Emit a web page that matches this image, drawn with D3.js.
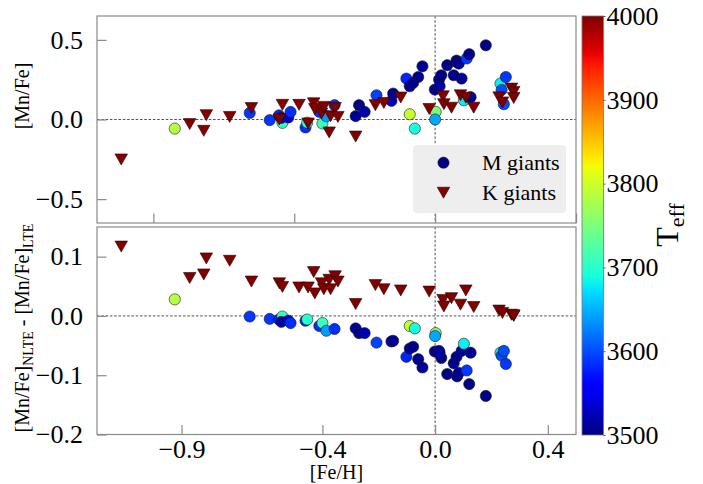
<!DOCTYPE html>
<html><head><meta charset="utf-8">
<script src="https://cdn.jsdelivr.net/npm/d3@7"></script>
<style>
body{margin:0;background:#fff}
svg{display:block}
svg text{font-family:"Liberation Serif","Times New Roman",serif !important;fill:#000}
</style>
</head><body>
<svg id="chart" width="703" height="484"></svg>
<script>
// M giants: metallicity, [Mn/Fe], NLTE-LTE correction, effective temperature
const fehM   = [-0.924,-0.658,-0.587,-0.554,-0.542,-0.546,-0.521,-0.513,-0.460,-0.454,-0.411,-0.400,-0.386,-0.357,-0.282,-0.270,-0.250,-0.208,-0.155,-0.149,-0.090,-0.072,-0.102,-0.090,-0.078,-0.060,-0.045,0.002,0.000,-0.001,0.014,0.022,0.016,0.043,0.066,0.076,0.078,0.084,0.094,0.102,0.112,0.126,0.121,0.180,0.232,0.236,0.244,0.251];
const mnfeM  = [-0.057,0.041,-0.004,0.026,-0.021,0.010,0.013,0.048,-0.050,-0.020,0.048,-0.025,0.020,0.090,0.021,0.090,0.048,0.152,0.117,0.163,0.033,-0.057,0.257,0.209,0.230,0.267,0.334,0.048,0.000,0.188,0.251,0.278,0.209,0.341,0.278,0.370,0.360,0.351,0.257,0.121,0.383,0.140,0.410,0.466,0.226,0.186,0.096,0.267];
const dnlteM = [0.028,-0.001,-0.005,-0.006,-0.001,-0.010,-0.008,-0.012,-0.008,-0.006,-0.017,-0.012,-0.025,-0.022,-0.021,-0.029,-0.029,-0.045,-0.043,-0.042,-0.017,-0.021,-0.069,-0.055,-0.052,-0.073,-0.087,-0.029,-0.034,-0.060,-0.059,-0.071,-0.062,-0.098,-0.080,-0.069,-0.102,-0.096,-0.059,-0.047,-0.092,-0.062,-0.115,-0.135,-0.062,-0.067,-0.059,-0.081];
const teffM  = [3785,3590,3590,3580,3705,3520,3530,3585,3585,3700,3585,3710,3640,3585,3510,3505,3520,3595,3530,3510,3795,3690,3580,3510,3505,3505,3510,3750,3645,3505,3510,3505,3515,3505,3510,3505,3505,3510,3510,3680,3590,3510,3505,3505,3680,3600,3600,3590];

// K giants
const fehK   = [-1.114,-0.871,-0.821,-0.812,-0.729,-0.652,-0.553,-0.542,-0.483,-0.451,-0.431,-0.427,-0.403,-0.395,-0.376,-0.371,-0.355,-0.345,-0.282,-0.212,-0.182,-0.122,-0.021,0.028,0.031,0.058,0.090,0.109,0.137,0.227,0.239,0.271,0.279,0.279];
const mnfeK  = [-0.251,-0.029,-0.071,0.027,0.016,0.072,0.000,0.092,0.092,-0.025,0.102,0.066,0.038,0.079,-0.081,0.021,0.072,0.016,-0.107,0.090,0.104,0.138,0.066,0.146,0.096,0.074,0.152,0.137,0.074,0.139,0.107,0.194,0.173,0.135];
const dnlteK = [0.117,0.064,0.070,0.097,0.093,0.058,0.055,0.049,0.048,0.048,0.074,0.038,0.055,0.045,0.061,0.045,0.067,0.058,0.020,0.052,0.045,0.043,0.041,0.027,0.016,0.030,0.019,0.043,0.015,0.009,0.005,0.002,0.000,0.001];
const teffK  = [4000,4000,4000,4000,4000,4000,4000,4000,4000,4000,4000,4000,4000,4000,4000,4000,4000,4000,4000,4000,4000,4000,4000,4000,4000,4000,4000,4000,4000,4000,4000,4000,4000,4000];

const xTicksTop = [-1.0,-0.5,0.0,0.5];
const xTicksBottom = [-0.9,-0.4,0.0,0.4];
const yTicksTop = [0.5,0.0,-0.5];
const yTicksBottom = [0.1,0.0,-0.1,-0.2];
const cbarTicks = [3500,3600,3700,3800,3900,4000];
const legendLabels = ["M giants","K giants"];

const SERIF = '"Liberation Serif","Times New Roman",serif';

// matplotlib "jet" colormap
function jet(t){
  t = Math.max(0, Math.min(1, t));
  const seg = (pts) => {
    for (let i = 1; i < pts.length; i++) {
      if (t <= pts[i][0]) {
        const [x0,y0] = pts[i-1], [x1,y1] = pts[i];
        return y0 + (y1 - y0) * (t - x0) / (x1 - x0);
      }
    }
    return pts[pts.length-1][1];
  };
  const r = seg([[0,0],[0.35,0],[0.66,1],[0.89,1],[1,0.5]]);
  const g = seg([[0,0],[0.125,0],[0.375,1],[0.64,1],[0.91,0],[1,0]]);
  const b = seg([[0,0.5],[0.11,1],[0.34,1],[0.65,0],[1,0]]);
  return d3.rgb(r*255, g*255, b*255).formatHex();
}

const svg = d3.select("#chart");
const L = 97, R = 576;
const topY0 = 16, topY1 = 223, botY0 = 227, botY1 = 434.5;

const x = d3.scaleLinear().domain([-1.2, 0.5]).range([L, R]);
const yTop = d3.scaleLinear().domain([-0.65, 0.65]).range([topY1, topY0]);
const yBot = d3.scaleLinear().domain([-0.2, 0.15]).range([botY1, botY0]);
const color = d3.scaleSequential(jet).domain([3500, 4000]).clamp(true);

const fmt = d3.format(".1f");
const spine = "#8a8a8a";
const tickLen = 9.5;

function triPath(w, h){
  return `M${-w/2},${-h/2}L${w/2},${-h/2}L0,${h/2}Z`;
}

function styleTicks(sel){
  sel.attr("font-family", null).attr("font-size", null);
  sel.selectAll(".tick text").style("font-family", SERIF).style("font-size", "26px").attr("fill", "#000");
}

function panel(y, y0, y1, yTicks, xTicks, showXLabels, yKey, clipId){
  const g = svg.append("g");
  svg.append("clipPath").attr("id", clipId).append("rect")
    .attr("x", L).attr("y", y0).attr("width", R - L).attr("height", y1 - y0);

  // reference lines at zero
  g.append("line").attr("x1", L).attr("x2", R).attr("y1", y(0)).attr("y2", y(0))
    .attr("stroke", "#222").attr("stroke-width", 0.8).attr("stroke-dasharray", "2.5,1.8");
  g.append("line").attr("x1", x(0)).attr("x2", x(0)).attr("y1", y0).attr("y2", y1)
    .attr("stroke", "#222").attr("stroke-width", 0.8).attr("stroke-dasharray", "2.5,1.8");

  const marks = g.append("g").attr("clip-path", `url(#${clipId})`);
  const valsM = yKey === "top" ? mnfeM : dnlteM;
  const valsK = yKey === "top" ? mnfeK : dnlteK;

  marks.selectAll("circle").data(fehM.map((f, i) => ({f, v: valsM[i], t: teffM[i]})))
    .join("circle")
    .attr("cx", d => x(d.f)).attr("cy", d => y(d.v)).attr("r", 5.6)
    .attr("fill", d => color(d.t)).attr("stroke", "#1a1a1a").attr("stroke-width", 0.6);

  marks.selectAll("path.k").data(fehK.map((f, i) => ({f, v: valsK[i], t: teffK[i]})))
    .join("path").attr("class", "k")
    .attr("d", triPath(12.5, 11))
    .attr("transform", d => `translate(${x(d.f)},${y(d.v)})`)
    .attr("fill", d => color(d.t)).attr("stroke", "#2a0000").attr("stroke-width", 0.6);

  // y axis (ticks pointing inward)
  const ya = svg.append("g").attr("transform", `translate(${L},0)`)
    .call(d3.axisLeft(y).tickValues(yTicks).tickFormat(fmt).tickSizeInner(-tickLen).tickSizeOuter(0).tickPadding(14));
  ya.select(".domain").remove();
  ya.selectAll(".tick line").attr("stroke", spine).attr("stroke-width", 1.2);
  styleTicks(ya);

  // x axis (ticks pointing inward)
  const xa = svg.append("g").attr("transform", `translate(0,${y1})`)
    .call(d3.axisBottom(x).tickValues(xTicks).tickFormat(showXLabels ? fmt : () => "")
      .tickSizeInner(-tickLen).tickSizeOuter(0).tickPadding(5));
  xa.select(".domain").remove();
  xa.selectAll(".tick line").attr("stroke", spine).attr("stroke-width", 1.2);
  styleTicks(xa);

  // frame
  svg.append("rect").attr("x", L).attr("y", y0).attr("width", R - L).attr("height", y1 - y0)
    .attr("fill", "none").attr("stroke", spine).attr("stroke-width", 1.2);
}

panel(yTop, topY0, topY1, yTicksTop, xTicksTop, false, "top", "clipTop");
panel(yBot, botY0, botY1, yTicksBottom, xTicksBottom, true, "bot", "clipBot");

// legend
const lg = svg.append("g");
lg.append("rect").attr("x", 413).attr("y", 145).attr("width", 153).attr("height", 68)
  .attr("rx", 4).attr("fill", "#eeeeee");
lg.append("circle").attr("cx", 443.5).attr("cy", 162.7).attr("r", 5.6)
  .attr("fill", color(3500)).attr("stroke", "#1a1a1a").attr("stroke-width", 0.6);
lg.append("path").attr("d", triPath(12.5, 11)).attr("transform", "translate(443.5,192.7)")
  .attr("fill", color(4000)).attr("stroke", "#2a0000").attr("stroke-width", 0.6);
lg.selectAll("text").data(legendLabels).join("text")
  .attr("x", 482).attr("y", (d, i) => 169.5 + i * 30)
  .style("font-size", "22px").text(d => d);

// axis labels
svg.append("text").attr("x", 336.5).attr("y", 479).attr("text-anchor", "middle")
  .style("font-size", "20px").text("[Fe/H]");

svg.append("text").attr("transform", "translate(29,96) rotate(-90)")
  .attr("text-anchor", "middle").style("font-size", "20px").text("[Mn/Fe]");

const bl = svg.append("text").attr("transform", "translate(29,328) rotate(-90)")
  .attr("text-anchor", "middle").style("font-size", "20px");
bl.append("tspan").text("[Mn/Fe]");
bl.append("tspan").style("font-size", "14px").attr("dy", 4).text("NLTE");
bl.append("tspan").attr("dy", -4).text(" - [Mn/Fe]");
bl.append("tspan").style("font-size", "14px").attr("dy", 4).text("LTE");

// colorbar
const cbX = 582, cbW = 21.5, cbY0 = 16, cbY1 = 435;
const yC = d3.scaleLinear().domain([3500, 4000]).range([cbY1, cbY0]);
const grad = svg.append("defs").append("linearGradient").attr("id", "jetGrad")
  .attr("x1", 0).attr("y1", 1).attr("x2", 0).attr("y2", 0);
d3.range(0, 1.0001, 0.02).forEach(t => {
  grad.append("stop").attr("offset", t).attr("stop-color", jet(t));
});
svg.append("rect").attr("x", cbX).attr("y", cbY0).attr("width", cbW).attr("height", cbY1 - cbY0)
  .attr("fill", "url(#jetGrad)").attr("stroke", "#777").attr("stroke-width", 0.8);
const ca = svg.append("g").attr("transform", `translate(${cbX + cbW},0)`)
  .call(d3.axisRight(yC).tickValues(cbarTicks).tickFormat(d3.format("d")).tickSizeInner(2).tickSizeOuter(0).tickPadding(1));
ca.select(".domain").remove();
ca.selectAll(".tick line").attr("stroke", "#555");
styleTicks(ca);

const tl = svg.append("text").attr("transform", "translate(678,225) rotate(-90)")
  .attr("text-anchor", "middle").style("font-size", "32px");
tl.append("tspan").text("T");
tl.append("tspan").style("font-size", "22px").attr("dy", 6).text("eff");
</script>
</body></html>
